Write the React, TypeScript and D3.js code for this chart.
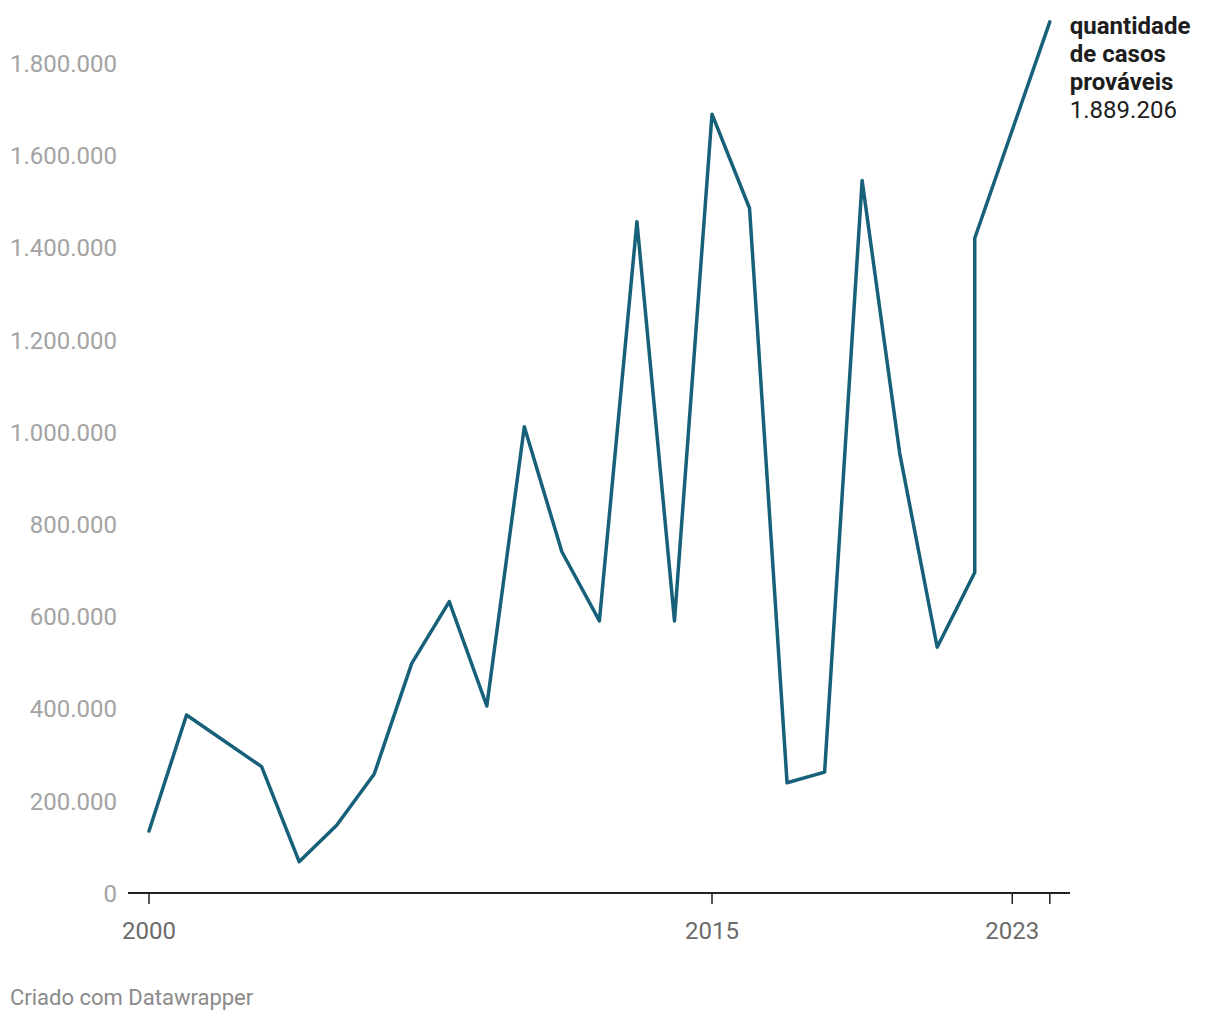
import React from "react";
import * as d3 from "d3";

const years: number[] = [2000, 2001, 2003, 2004, 2005, 2006, 2007, 2008, 2009, 2010, 2011, 2012, 2013, 2014, 2015, 2016, 2017, 2018, 2019, 2020, 2021, 2022, 2022, 2024];
const cases: number[] = [134500, 386000, 274000, 68000, 147000, 258000, 498000, 632000, 405500, 1011000, 740000, 590000, 1456000, 590000, 1689000, 1485000, 239000, 262000, 1545000, 954000, 533000, 695000, 1420000, 1889206];
const yTicks: number[] = [0, 200000, 400000, 600000, 800000, 1000000, 1200000, 1400000, 1600000, 1800000];
const xTickYears: number[] = [2000, 2015, 2023, 2024];
const xLabelYears: number[] = [2000, 2015, 2023];
const labelLines: string[] = ["quantidade", "de casos", "prováveis"];
const lastValueText = "1.889.206";
const footer = "Criado com Datawrapper";

const W = 1220;
const H = 1020;
const FONT = "Roboto, 'Noto Sans', sans-serif";

const fmt = (v: number) => d3.format(",")(v).replace(/,/g, ".");

export default function App() {
  const x = d3.scaleLinear().domain([2000, 2015]).range([149, 712]);
  const y = d3.scaleLinear().domain([0, 1800000]).range([893, 63]);
  const pts: [number, number][] = years.map((yr, i) => [yr, cases[i]]);
  const line = d3
    .line<[number, number]>()
    .x((d) => x(d[0]))
    .y((d) => y(d[1]));
  const last = pts[pts.length - 1];
  const lx = x(last[0]) + 20;

  return (
    <svg
      width={W}
      height={H}
      style={{ position: "absolute", left: 0, top: 0, background: "#fff" }}
      fontFamily={FONT}
    >
      {yTicks.map((t) => (
        <text
          key={t}
          x={117}
          y={y(t)}
          dy="0.37em"
          textAnchor="end"
          fontSize={24}
          fill="#a3a3a3"
        >
          {fmt(t)}
        </text>
      ))}
      <line x1={128} x2={1070} y1={y(0)} y2={y(0)} stroke="#222" strokeWidth={2} />
      {xTickYears.map((t) => (
        <line key={t} x1={x(t)} x2={x(t)} y1={y(0)} y2={y(0) + 11} stroke="#222" strokeWidth={1.5} />
      ))}
      {xLabelYears.map((t) => (
        <text key={t} x={x(t)} y={939} textAnchor="middle" fontSize={24} fill="#6b6b6b">
          {t}
        </text>
      ))}
      <path
        d={line(pts) || ""}
        fill="none"
        stroke="#17607a"
        strokeWidth={3.5}
        strokeLinejoin="round"
        strokeLinecap="round"
      />
      {labelLines.map((l, i) => (
        <text key={l} x={lx} y={34 + i * 28} fontSize={24} fontWeight={700} fill="#1d1d1d">
          {l}
        </text>
      ))}
      <text x={lx} y={34 + 3 * 28} fontSize={24} fill="#1d1d1d">
        {lastValueText}
      </text>
      <text x={10} y={1005} fontSize={22} fill="#8a8a8a">
        {footer}
      </text>
    </svg>
  );
}
